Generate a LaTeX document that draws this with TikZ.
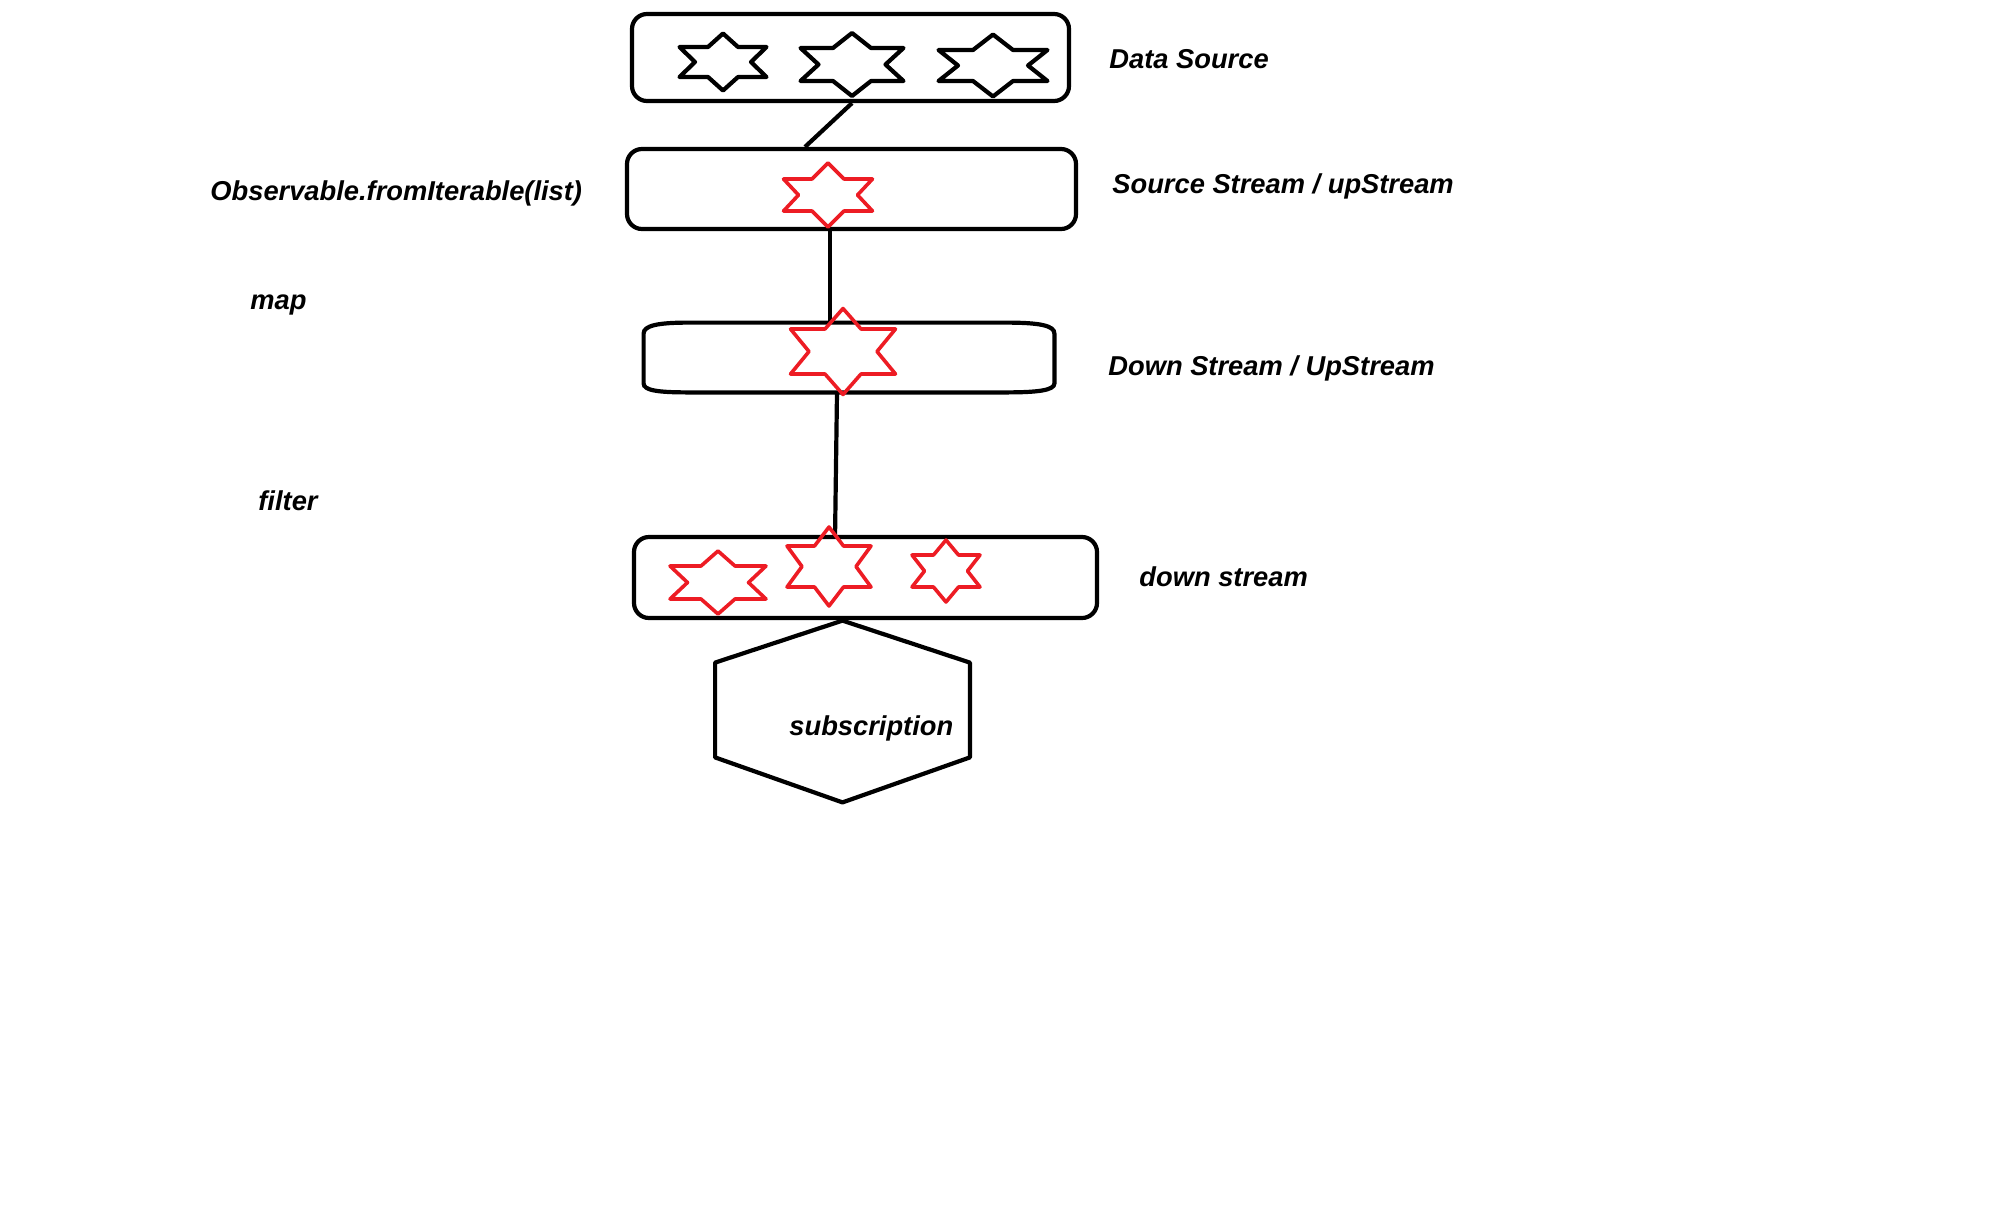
\documentclass[tikz,border=0pt]{standalone}
\usepackage{fontspec}
\setmainfont{Liberation Sans}
\usetikzlibrary{calc}

% six-pointed star: centre (#1,#2), half width #3, half height #4,
% offset of the two bars #5, inner x of the bar ends #6, side notch #7, style #8
\newcommand\sixstar[8]{%
  \draw[#8] ({#1},{#2-#4}) -- ({#1+#6},{#2-#5}) -- ({#1+#3},{#2-#5})
    -- ({#1+#7},{#2}) -- ({#1+#3},{#2+#5}) -- ({#1+#6},{#2+#5})
    -- ({#1},{#2+#4}) -- ({#1-#6},{#2+#5}) -- ({#1-#3},{#2+#5})
    -- ({#1-#7},{#2}) -- ({#1-#3},{#2-#5}) -- ({#1-#6},{#2-#5}) -- cycle;}

\definecolor{paintred}{RGB}{237,28,36}

\tikzset{
  box/.style={draw, line width=2.1pt, rounded corners=7.5pt, inner sep=0pt},
  link/.style={draw, line width=2.1pt},
  blackstar/.style={line width=2.1pt, line join=round},
  redstar/.style={draw=paintred, line width=1.8pt, line join=round},
  lbl/.style={anchor=base west, inner sep=0pt,
    font=\bfseries\itshape\fontsize{13.65}{16}\selectfont},
}

\begin{document}
\begin{tikzpicture}[x=0.5pt, y=-0.5pt]
\useasboundingbox (0,0) rectangle (1992,1227);

% boxes
\node[box, minimum width=218.5pt, minimum height=43.5pt] (ds) at (850.5,57.5) {};
\node[box, minimum width=224.5pt, minimum height=40pt] (ss) at (851.5,189) {};
\node[inner sep=0pt, minimum width=205pt, minimum height=34.5pt] (du) at (849,357.5) {};
\draw[line width=2.1pt]
  ($(du.north west)+(0,11)$) .. controls ($(du.north west)+(0,3)$) and ($(du.north west)+(14,0)$) .. ($(du.north west)+(45,0)$)
  -- ($(du.north east)+(-49,0)$) .. controls ($(du.north east)+(-14,0)$) and ($(du.north east)+(0,3)$) .. ($(du.north east)+(0,11)$)
  -- ($(du.south east)+(0,-9)$) .. controls ($(du.south east)+(0,-2)$) and ($(du.south east)+(-17,0)$) .. ($(du.south east)+(-49,0)$)
  -- ($(du.south west)+(45,0)$) .. controls ($(du.south west)+(14,0)$) and ($(du.south west)+(0,-2)$) .. ($(du.south west)+(0,-9)$)
  -- cycle;
\node[box, minimum width=231.5pt, minimum height=40.5pt] (dn) at (865.5,577.5) {};

% subscription hexagon
\node[inner sep=0pt, minimum width=127pt, minimum height=90.5pt] (sub) at (842.5,711.5) {};
\draw[line width=2.1pt, line join=round]
  (sub.north) -- ($(sub.north east)+(0,42)$) -- ($(sub.south east)+(0,-45)$)
  -- (sub.south) -- ($(sub.south west)+(0,-45)$) -- ($(sub.north west)+(0,42)$) -- cycle;
\node[lbl] (subt) at (789,735) {subscription};

% connectors
\draw[link] ($(ds.south)+(1.5,0)$) -- ($(ss.north)+(-46.5,0)$);
\draw[link] ($(ss.south)+(-21.5,0)$) -- ($(du.north)+(-19,0)$);
\draw[link] ($(du.south)+(-12,0)$) -- ($(dn.north)+(-30.5,4)$);

% items in the data source
\sixstar{723}{62}{43.5}{28.5}{15}{15}{28}{blackstar}
\sixstar{852}{64.5}{51.5}{31.5}{16.5}{19}{33.5}{blackstar}
\sixstar{993}{65.5}{54.5}{31}{15.5}{20}{35}{blackstar}

% items in the streams
\sixstar{828}{195}{44.5}{32}{16}{16}{29.5}{redstar}
\sixstar{843}{351.5}{52.5}{43}{22.5}{18}{34}{redstar}
\sixstar{718}{582.5}{48}{31.5}{16.5}{17}{30.5}{redstar}
\sixstar{829}{566.5}{42}{39.5}{20.5}{14.5}{27}{redstar}
\sixstar{946}{571}{34}{31}{16}{12.5}{21.5}{redstar}

% labels
\node[lbl] (l1) at (1109,68) {Data Source};
\node[lbl] (l2) at (1112,193) {Source Stream / upStream};
\node[lbl] (l3) at (1108,375) {Down Stream / UpStream};
\node[lbl] (l4) at (1139,586) {down stream};
\node[lbl] (l5) at (210,200) {Observable.fromIterable(list)};
\node[lbl] (l6) at (250,309) {map};
\node[lbl] (l7) at (258,510) {filter};
\end{tikzpicture}
\end{document}
